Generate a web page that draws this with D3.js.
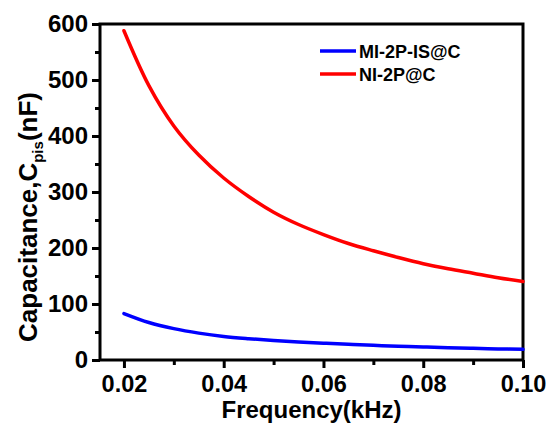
<!DOCTYPE html>
<html>
<head>
<meta charset="utf-8">
<script src="https://cdn.jsdelivr.net/npm/d3@7"></script>
<style>
  body { margin: 0; background: #fff; }
  text { font-family: "Liberation Sans", Arial, sans-serif; font-weight: bold; fill: #000; }
</style>
</head>
<body>
<div id="chart-area"></div>
<script>
// data
var freq = [0.020, 0.025, 0.030, 0.035, 0.040, 0.045, 0.050, 0.055, 0.060,
            0.065, 0.070, 0.075, 0.080, 0.085, 0.090, 0.095, 0.100];
var miCap = [83, 67, 56, 48, 42, 38, 34.8, 32.2, 30, 28, 26.2, 24.6, 23.2, 22, 20.8, 19.8, 19];
var niCap = [588, 490, 418, 366, 325, 292, 264, 242, 224, 208, 195, 183, 172, 163, 155, 147, 140];
var seriesNames = ["MI-2P-IS@C", "NI-2P@C"];
var seriesColors = ["#0000ff", "#ff0000"];
var xTicks = [0.02, 0.04, 0.06, 0.08, 0.10];
var xMinor = [0.03, 0.05, 0.07, 0.09];
var yTicks = [0, 100, 200, 300, 400, 500, 600];
var yMinor = [50, 150, 250, 350, 450, 550];

var margin = { top: 24, right: 24, bottom: 70, left: 100 },
    width = 547 - margin.left - margin.right,
    height = 430 - margin.top - margin.bottom;

var svg = d3.select("#chart-area")
    .append("svg")
    .attr("width", 547)
    .attr("height", 430)
    .append("g")
    .attr("transform", `translate(${margin.left},${margin.top})`);

var x = d3.scaleLinear().domain([0.0152, 0.10]).range([0, width]);
var y = d3.scaleLinear().domain([0, 600]).range([height, 0]);

// frame
svg.append("rect")
    .attr("width", width).attr("height", height)
    .attr("fill", "none").attr("stroke", "#000").attr("stroke-width", 3);

// minor ticks
svg.append("g").attr("transform", `translate(0,${height})`)
    .call(d3.axisBottom(x).tickValues(xMinor).tickSize(5).tickFormat(""))
    .call(g => g.select(".domain").remove())
    .call(g => g.selectAll("line").attr("stroke-width", 3));
svg.append("g")
    .call(d3.axisLeft(y).tickValues(yMinor).tickSize(5).tickFormat(""))
    .call(g => g.select(".domain").remove())
    .call(g => g.selectAll("line").attr("stroke-width", 3));

// major ticks
var xAxis = svg.append("g").attr("transform", `translate(0,${height})`)
    .call(d3.axisBottom(x).tickValues(xTicks).tickSize(8).tickPadding(7).tickFormat(d3.format(".2f")));
xAxis.select(".domain").remove();
xAxis.selectAll("line").attr("stroke-width", 3);
xAxis.selectAll("text").attr("font-size", "23.5px").attr("font-family", null);

var yAxis = svg.append("g")
    .call(d3.axisLeft(y).tickValues(yTicks).tickSize(8).tickPadding(4));
yAxis.select(".domain").remove();
yAxis.selectAll("line").attr("stroke-width", 3);
yAxis.selectAll("text").attr("font-size", "24px").attr("font-family", null);

// curves
var line = d3.line().x(d => x(d[0])).y(d => y(d[1])).curve(d3.curveCatmullRom.alpha(0.5));
[miCap, niCap].forEach((vals, i) => {
    svg.append("path")
        .datum(freq.map((f, j) => [f, vals[j]]))
        .attr("fill", "none")
        .attr("stroke", seriesColors[i])
        .attr("stroke-width", 3.5)
        .attr("stroke-linecap", "round")
        .attr("d", line);
});

// legend
var legend = svg.append("g").attr("transform", "translate(220, 27)");
seriesNames.forEach((name, i) => {
    var row = legend.append("g").attr("transform", `translate(0, ${i * 23})`);
    row.append("line")
        .attr("x1", 0).attr("x2", 36)
        .attr("stroke", seriesColors[i]).attr("stroke-width", 3.5);
    row.append("text")
        .attr("x", 39).attr("y", 6.5)
        .attr("font-size", "18px")
        .text(name);
});

// axis titles
svg.append("text")
    .attr("x", width / 2).attr("y", height + 58)
    .attr("text-anchor", "middle")
    .attr("font-size", "24px")
    .text("Frequency(kHz)");

var yt = svg.append("text")
    .attr("transform", `translate(-63,${height / 2 + 25}) rotate(-90)`)
    .attr("text-anchor", "middle")
    .attr("font-size", "26px");
yt.append("tspan").text("Capacitance,C");
yt.append("tspan").attr("font-size", "15px").attr("dy", 6).text("pis");
yt.append("tspan").attr("dy", -6).text("(nF)");
</script>
</body>
</html>
